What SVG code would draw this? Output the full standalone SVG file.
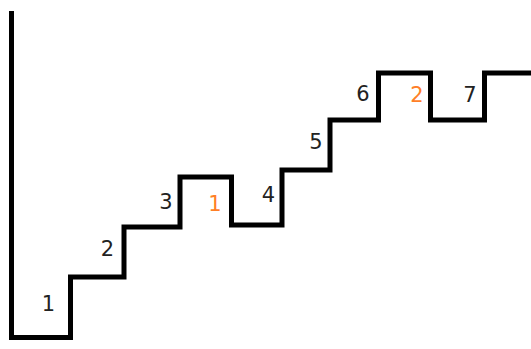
<svg xmlns="http://www.w3.org/2000/svg" width="531" height="349" viewBox="0 0 531 349">
<style>
.line{fill:none;stroke:#000;stroke-width:5;stroke-linejoin:miter;stroke-linecap:butt}
text{font-family:"DejaVu Sans","Liberation Sans",sans-serif;font-size:21px;text-anchor:middle}
.k{fill:#222}
.o{fill:#ff7f27}
</style>
<rect width="531" height="349" fill="#fff"/>
<path class="line" d="M11.5,11 V337.5 H70.5 V277 H124 V227 H180 V177 H231.5 V225 H282 V170 H330 V120 H378.5 V73 H430.5 V120 H484.5 V73 H531"/>
<g id="labels">
<text class="k" x="48.5" y="311">1</text>
<text class="k" x="107.5" y="256">2</text>
<text class="k" x="166" y="209">3</text>
<text class="o" x="215" y="211">1</text>
<text class="k" x="268.5" y="202">4</text>
<text class="k" x="316" y="149">5</text>
<text class="k" x="363" y="101">6</text>
<text class="o" x="417" y="102">2</text>
<text class="k" x="470" y="102">7</text>
</g>
</svg>
